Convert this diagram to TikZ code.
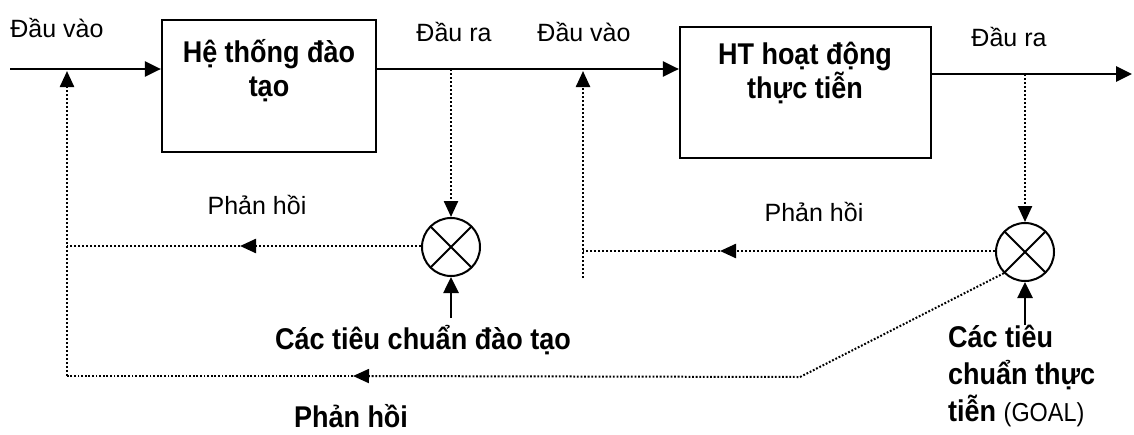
\documentclass[tikz,border=0pt]{standalone}
\usepackage{fontspec}
\setmainfont{Liberation Sans}
\usepackage{graphicx}
\usetikzlibrary{arrows.meta,calc}
% condensed bold lettering
\newcommand{\narrowb}[1]{\scalebox{0.9}[1]{#1}}
\tikzset{
  sys/.style={draw, line width=2.2pt, rectangle, inner sep=0pt},
  mixer/.style={draw, line width=2pt, circle, minimum size=58pt, inner sep=0pt,
    path picture={\draw[line width=2pt]
      (path picture bounding box.north west) -- (path picture bounding box.south east)
      (path picture bounding box.north east) -- (path picture bounding box.south west);}},
  flow/.style={line width=2.6pt, -{Triangle[length=16pt,width=15pt]}},
  fb/.style={line width=2.4pt, dash pattern=on 2pt off 2pt},
  fbarrow/.style={fb, -{Triangle[length=16pt,width=14pt]}},
  fbthin/.style={line width=2pt, dash pattern=on 1.8pt off 1.8pt},
  lbl/.style={font=\fontsize{25}{28}\selectfont, inner sep=0pt},
  boldlbl/.style={font=\fontsize{30}{34}\selectfont\bfseries, inner sep=0pt, align=center},
}
\begin{document}
\begin{tikzpicture}[x=1pt,y=-1pt]
\useasboundingbox (0,0) rectangle (1134,434);

% the two systems
\node[sys, minimum width=214pt, minimum height=132pt] (sysA) at (269,86) {};
\node[boldlbl] (sysAtxt) at (269,71) {\narrowb{Hệ thống đào}\\\narrowb{tạo}};
\node[sys, minimum width=251pt, minimum height=131pt] (sysB) at (805.5,92.5) {};
\node[boldlbl] (sysBtxt) at (805,73) {\narrowb{HT hoạt động}\\\narrowb{thực tiễn}};

% comparators
\node[mixer] (cmpA) at (451,247) {};
\node[mixer] (cmpB) at (1025,252) {};

% path points
\coordinate (inA) at (10,69);
\coordinate (outB) at (1132,74);
\coordinate (tapA) at (451,69);
\coordinate (tapB) at (1025,74);
\coordinate (retA) at (67,71);
\coordinate (retB) at (583,71);
\coordinate (fbAmid) at (240,246);
\coordinate (fbAend) at (67,246);
\coordinate (fbBmid) at (720,251);
\coordinate (fbBend) at (583,251);
\coordinate (fbBlow) at (583,278);
\coordinate (loopC) at (800,377);
\coordinate (loopMid) at (353,376);
\coordinate (loopEnd) at (67,376);
\coordinate (stdA) at (451,318);
\coordinate (stdB) at (1025,325);

% forward path
\draw[flow] (inA) -- (inA -| sysA.west);
\draw[flow] (sysA.east |- inA) -- (sysB.west |- inA);
\draw[flow] (sysB.east |- outB) -- (outB);

% outputs sampled into the comparators
\draw[fbarrow] (tapA) -- (cmpA.north);
\draw[fbarrow] (tapB) -- (cmpB.north);

% reference standards
\draw[flow] (stdA) -- (cmpA.south);
\draw[flow] (stdB) -- (cmpB.south);

% inner feedback of the training system
\draw[fbarrow] (cmpA.west |- fbAmid) -- (fbAmid);
\draw[fb] (fbAmid) -- (fbAend);
\draw[fbarrow] (loopEnd) -- (retA);

% inner feedback of the practice system
\draw[fbarrow] (cmpB.west |- fbBmid) -- (fbBmid);
\draw[fb] (fbBmid) -- (fbBend);
\draw[fbarrow] (fbBlow) -- (retB);

% outer feedback loop
\draw[fbthin, -{Triangle[length=16pt,width=14pt]}] (cmpB.south west) -- (loopC) -- (loopMid);
\draw[fbthin] (loopMid) -- (loopEnd);

% labels
\node[lbl] (inLblA) at (57,28) {Đầu vào};
\node[lbl] (outLblA) at (454,32) {Đầu ra};
\node[lbl] (inLblB) at (584,32) {Đầu vào};
\node[lbl] (outLblB) at (1009,37) {Đầu ra};
\node[lbl] (fbLblA) at (257,205) {Phản hồi};
\node[lbl] (fbLblB) at (814,212) {Phản hồi};
\node[boldlbl] (stdLblA) at (423,340) {\narrowb{Các tiêu chuẩn đào tạo}};
\node[boldlbl] (loopLbl) at (351,416) {\narrowb{Phản hồi}};
\node[boldlbl, align=left, anchor=west, font=\fontsize{30}{37}\selectfont\bfseries] (stdLblB) at (948,376)
  {\narrowb{Các tiêu}\\\narrowb{chuẩn thực}\\\narrowb{tiễn {\mdseries\fontsize{26}{37}\selectfont (GOAL)}}};
\end{tikzpicture}
\end{document}
